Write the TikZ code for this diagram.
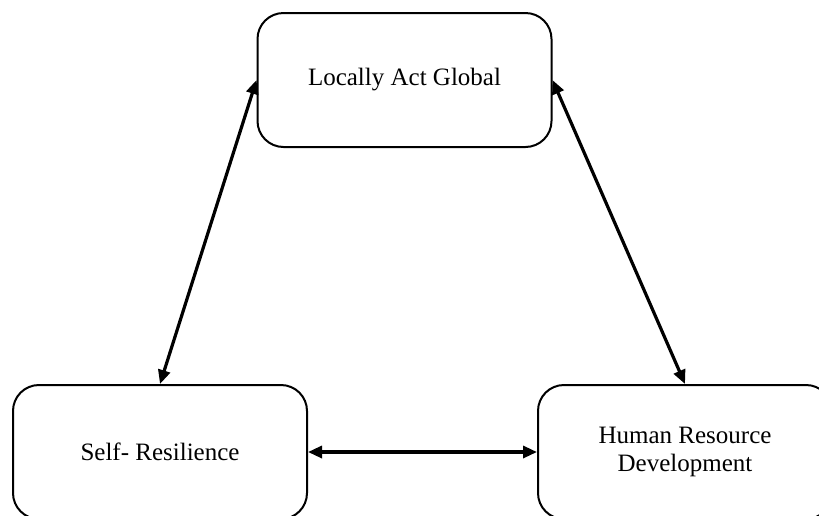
\documentclass[tikz,border=0pt]{standalone}
\usepackage{fontspec}
\setmainfont{Liberation Serif}
\usetikzlibrary{arrows.meta}
\tikzset{
  box/.style={draw, line width=1pt, rounded corners=13pt, minimum width=147pt, minimum height=67pt, align=center, inner sep=0pt, font=\fontsize{12.5}{14}\selectfont},
  link/.style={line width=1.6pt, {Triangle[length=7pt,width=6pt]}-{Triangle[length=7pt,width=6pt]}}
}
\begin{document}
\begin{tikzpicture}[x=0.5pt,y=-0.5pt]
\clip (0,0) rectangle (819,515);
\fill[white] (0,0) rectangle (819,515);
\node[box] (top) at (404.5,80) {Locally Act Global};
\node[box] (lbox) at (160,452) {Self- Resilience};
\node[box] (rbox) at (685,452) {Human Resource\\Development};
\draw[link] (top.west) -- (lbox.north);
\draw[link] (top.east) -- (rbox.north);
\draw[link] (lbox.east) -- (rbox.west);
\end{tikzpicture}
\end{document}
